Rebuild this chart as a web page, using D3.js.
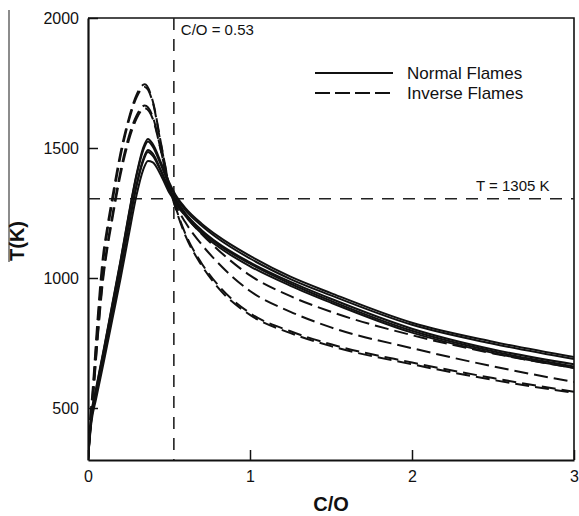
<!DOCTYPE html>
<html>
<head>
<meta charset="utf-8">
<script src="https://cdn.jsdelivr.net/npm/d3@7"></script>
<style>
  body { margin: 0; background: #fff; }
  text { font-family: "Liberation Sans", Arial, sans-serif; fill: #111; }
</style>
</head>
<body>
<div id="chart"></div>
<script>
// C/O grids for the two flame families
var normalX = [0, 0.02, 0.05, 0.1, 0.15, 0.2, 0.25, 0.3, 0.34, 0.37, 0.4, 0.45, 0.5, 0.55, 0.6, 0.7, 0.8, 1.0, 1.25, 1.5, 2.0, 2.5, 3.0];
var inverseX = [0, 0.01, 0.03, 0.06, 0.09, 0.12, 0.15, 0.2, 0.25, 0.3, 0.35, 0.4, 0.45, 0.5, 0.55, 0.6, 0.7, 0.8, 1.0, 1.25, 1.5, 2.0, 2.5, 3.0];

// temperatures (K)
var normal1 = [300, 470, 575, 735, 900, 1065, 1240, 1400, 1500, 1535, 1515, 1445, 1370, 1310, 1270, 1210, 1162, 1085, 1005, 942, 828, 755, 696];
var normal2 = [300, 465, 570, 730, 895, 1060, 1235, 1395, 1490, 1525, 1505, 1435, 1360, 1305, 1262, 1202, 1153, 1075, 996, 933, 820, 747, 688];
var normal3 = [300, 455, 555, 710, 870, 1030, 1200, 1360, 1455, 1492, 1478, 1415, 1345, 1295, 1250, 1185, 1135, 1060, 985, 920, 805, 725, 668];
var normal4 = [300, 450, 550, 705, 865, 1025, 1195, 1355, 1448, 1485, 1470, 1410, 1340, 1290, 1245, 1180, 1130, 1055, 978, 912, 797, 718, 660];
var normal5 = [300, 440, 535, 685, 840, 995, 1160, 1320, 1415, 1450, 1445, 1395, 1330, 1285, 1240, 1172, 1122, 1045, 970, 905, 790, 712, 654];

var inverse1 = [300, 420, 580, 850, 1070, 1200, 1310, 1480, 1610, 1705, 1745, 1680, 1520, 1360, 1250, 1165, 1050, 965, 858, 788, 738, 668, 608, 558];
var inverse2 = [300, 410, 560, 820, 1040, 1180, 1290, 1465, 1600, 1695, 1735, 1675, 1515, 1360, 1255, 1172, 1058, 975, 865, 795, 745, 675, 615, 562];
var inverse3 = [300, 400, 540, 780, 990, 1130, 1240, 1410, 1540, 1625, 1663, 1620, 1490, 1350, 1270, 1215, 1130, 1060, 950, 870, 810, 730, 660, 600];
var inverse4 = [300, 395, 530, 770, 975, 1115, 1225, 1395, 1525, 1613, 1653, 1612, 1490, 1355, 1280, 1240, 1170, 1110, 1010, 930, 870, 780, 710, 654];

var normalSeries = [normal1, normal2, normal3, normal4, normal5];
var inverseSeries = [inverse1, inverse2, inverse3, inverse4];

var xTicks = [0, 1, 2, 3];
var yTicks = [500, 1000, 1500, 2000];
var coLimit = 0.53;
var tLimit = 1305;
var legendLabels = ["Normal Flames", "Inverse Flames"];

// set the dimensions and margins of the graph
var margin = {top: 18, right: 5, bottom: 56, left: 88},
    width = 579 - margin.left - margin.right,
    height = 516 - margin.top - margin.bottom;

var root = d3.select("#chart")
  .append("svg")
    .attr("width", 579)
    .attr("height", 516);

// stray scan line on the left edge
root.append("line")
  .attr("x1", 9).attr("x2", 9)
  .attr("y1", 10).attr("y2", 262)
  .style("stroke", "#666")
  .style("stroke-width", 1.5);

var svg = root.append("g")
  .attr("transform", "translate(" + margin.left + "," + margin.top + ")");

var x = d3.scaleLinear().domain([0, 3]).range([0, width]);
var y = d3.scaleLinear().domain([300, 2000]).range([height, 0]);

svg.append("clipPath").attr("id", "clip")
  .append("rect").attr("width", width).attr("height", height);

// axes with inward ticks
var xAxis = svg.append("g")
  .attr("transform", "translate(0," + height + ")")
  .call(d3.axisBottom(x).tickValues(xTicks).tickFormat(d3.format("d"))
    .tickSize(-10).tickSizeOuter(0).tickPadding(11));

var yAxis = svg.append("g")
  .call(d3.axisLeft(y).tickValues(yTicks).tickFormat(d3.format("d"))
    .tickSize(-10).tickSizeOuter(0).tickPadding(9));

[xAxis, yAxis].forEach(function(a) {
  a.selectAll("text").style("font-size", "16px").style("font-family", "Liberation Sans, Arial, sans-serif").attr("fill", "#111");
  a.selectAll("line").style("stroke", "#111").style("stroke-width", 1.5);
  a.select(".domain").style("stroke", "#111").style("stroke-width", 2.2);
});

// frame on top and right
svg.append("path")
  .attr("d", "M0,0H" + width + "V" + height)
  .style("fill", "none")
  .style("stroke", "#111")
  .style("stroke-width", 1.6);

var plot = svg.append("g").attr("clip-path", "url(#clip)");

// reference lines
plot.append("line")
  .attr("x1", x(coLimit)).attr("x2", x(coLimit))
  .attr("y1", 0).attr("y2", height)
  .style("stroke", "#222").style("stroke-width", 1.6)
  .style("stroke-dasharray", "12,9");

plot.append("line")
  .attr("x1", 0).attr("x2", width)
  .attr("y1", y(tLimit)).attr("y2", y(tLimit))
  .style("stroke", "#222").style("stroke-width", 1.6)
  .style("stroke-dasharray", "12,9");

var line = function(xs) {
  return d3.line()
    .x(function(d, i) { return x(xs[i]); })
    .y(function(d) { return y(d); })
    .curve(d3.curveMonotoneX);
};

plot.selectAll(".normal")
    .data(normalSeries)
  .enter().append("path")
    .attr("class", "normal")
    .attr("d", line(normalX))
    .style("fill", "none")
    .style("stroke", "#111")
    .style("stroke-width", 2);

plot.selectAll(".inverse")
    .data(inverseSeries)
  .enter().append("path")
    .attr("class", "inverse")
    .attr("d", line(inverseX))
    .style("fill", "none")
    .style("stroke", "#111")
    .style("stroke-width", 2)
    .style("stroke-dasharray", "14,6");

// labels on white boxes
svg.append("rect").attr("x", x(coLimit) + 4).attr("y", 2).attr("width", 88).attr("height", 20).style("fill", "#fff");
svg.append("text")
  .attr("x", x(coLimit) + 7).attr("y", 17)
  .style("font-size", "15px")
  .text("C/O = " + coLimit);

svg.append("rect").attr("x", 384).attr("y", y(tLimit) - 24).attr("width", 90).attr("height", 20).style("fill", "#fff");
svg.append("text")
  .attr("x", 388).attr("y", y(tLimit) - 8)
  .style("font-size", "15px")
  .text("T = " + tLimit + " K");

// legend
var legend = svg.selectAll(".legend")
    .data(legendLabels)
  .enter().append("g")
    .attr("transform", function(d, i) { return "translate(227," + (55 + i * 20) + ")"; });

legend.append("line")
  .attr("x1", 0).attr("x2", 78)
  .style("stroke", "#111")
  .style("stroke-width", 2)
  .style("stroke-dasharray", function(d, i) { return i ? "15,5" : null; });

legend.append("text")
  .attr("x", 92).attr("dy", "0.36em")
  .style("font-size", "17px")
  .text(function(d) { return d; });

// axis titles
root.append("text")
  .attr("transform", "translate(24,241) rotate(-90)")
  .attr("text-anchor", "middle")
  .style("font-size", "20px")
  .style("font-weight", "bold")
  .text("T(K)");

root.append("text")
  .attr("x", margin.left + width / 2).attr("y", 511)
  .attr("text-anchor", "middle")
  .style("font-size", "20px")
  .style("font-weight", "bold")
  .text("C/O");
</script>
</body>
</html>
